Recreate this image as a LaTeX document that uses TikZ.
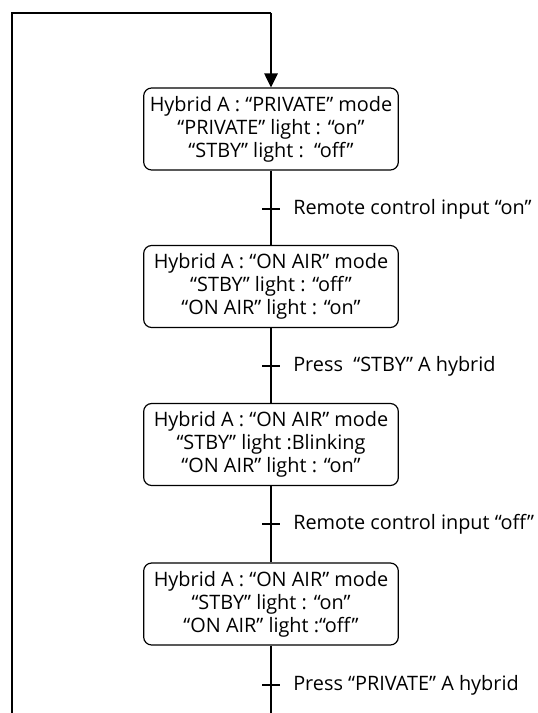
\documentclass[tikz,border=0pt]{standalone}
\usepackage{fontspec}
\setmainfont{Open Sans}
\usetikzlibrary{arrows.meta}
\begin{document}
\begin{tikzpicture}[x=0.75pt,y=-0.75pt,
  statebox/.style={draw, line width=0.9pt, rounded corners=6pt, minimum width=191pt, minimum height=61.5pt, inner sep=0pt, align=center, font=\fontsize{14.9}{17.3}\selectfont},
  flow/.style={line width=1.4pt},
  tick/.style={line width=1.1pt},
  lbl/.style={anchor=west, inner sep=0pt, font=\fontsize{14.9}{17.3}\selectfont}]
\useasboundingbox (0,0) rectangle (537,713);
\node[statebox] (s1) at (271,129) {Hybrid A : “PRIVATE” mode\\“PRIVATE” light : “on”\\“STBY” light :\ \ “off”};
\node[statebox] (s2) at (271,286.5) {Hybrid A : “ON AIR” mode\\“STBY” light : “off”\\“ON AIR” light : “on”};
\node[statebox] (s3) at (271,444.5) {Hybrid A : “ON AIR” mode\\“STBY” light :Blinking\\“ON AIR” light : “on”};
\node[statebox] (s4) at (271,604) {Hybrid A : “ON AIR” mode\\“STBY” light : “on”\\“ON AIR” light :“off”};
\coordinate (t1) at (271,209);
\coordinate (t2) at (271,366);
\coordinate (t3) at (271,524);
\coordinate (t4) at (271,685);
\coordinate (bot) at (271,713);
\coordinate (botL) at (12,713);
\coordinate (topL) at (12,13);
\coordinate (topR) at (271,13);
\draw[flow] (s1.south) -- (s2.north);
\draw[flow] (s2.south) -- (s3.north);
\draw[flow] (s3.south) -- (s4.north);
\draw[flow] (s4.south) -- (bot);
\draw[flow] (botL) -- (topL) -- (topR);
\draw[flow,-{Triangle[width=10pt,length=10.5pt]}] (topR) -- (s1.north);
\foreach \t in {t1,t2,t3,t4}{
  \draw[tick] ([xshift=-6.5pt]\t) -- ([xshift=6.5pt]\t);
}
\node[lbl] (l1) at ([xshift=16.5pt]t1) {Remote control input “on”};
\node[lbl] (l2) at ([xshift=16.5pt]t2) {Press\ \ “STBY” A hybrid};
\node[lbl] (l3) at ([xshift=16.5pt]t3) {Remote control input “off”};
\node[lbl] (l4) at ([xshift=16.5pt]t4) {Press “PRIVATE” A hybrid};
\end{tikzpicture}
\end{document}
